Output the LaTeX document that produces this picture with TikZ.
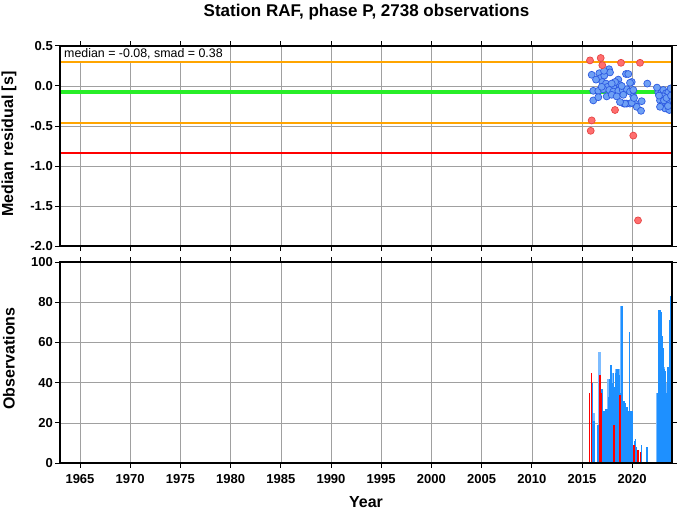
\documentclass[tikz,border=0pt]{standalone}
\usepackage{fontspec}
\setmainfont{Liberation Sans}
\definecolor{gridgray}{RGB}{160,160,160}
\definecolor{medgreen}{RGB}{40,238,40}
\definecolor{smadorange}{RGB}{255,165,0}
\definecolor{dotblue}{RGB}{110,160,245}
\definecolor{dotblueline}{RGB}{45,90,225}
\definecolor{dotred}{RGB}{255,110,110}
\definecolor{dotredline}{RGB}{230,70,70}
\definecolor{barblue}{RGB}{30,144,255}
\definecolor{barlight}{RGB}{125,188,255}
\tikzset{
  gridline/.style={draw=gridgray,line width=0.55pt},
  frame/.style={draw=black,line width=1.4pt},
  tickmark/.style={draw=black,line width=1pt},
  ticklab/.style={font=\fontsize{13}{13}\selectfont\bfseries,inner sep=0pt},
  axlab/.style={font=\fontsize{16}{16}\selectfont\bfseries,inner sep=0pt},
  bluedot/.style={fill=dotblue,draw=dotblueline,line width=0.7pt},
  reddot/.style={fill=dotred,draw=dotredline,line width=0.7pt}
}
\begin{document}
\begin{tikzpicture}[x=1pt,y=-1pt]
\useasboundingbox (0,0) rectangle (678,511);
\node[axlab,font=\fontsize{17}{17}\selectfont\bfseries,anchor=base] (title) at (366.5,16.7) {Station RAF, phase P, 2738 observations};
% top panel: grid
\foreach \yr in {1965,1970,...,2020}
  \draw[gridline] ({80+(\yr-1965)*10.04},46) -- ++(0,200);
\foreach \yy in {86,126,166,206}
  \draw[gridline] (60,\yy) -- (672,\yy);
% median and smad lines
\draw[smadorange,line width=2pt] (60,62) -- (672,62);
\draw[smadorange,line width=2pt] (60,122.8) -- (672,122.8);
\draw[medgreen,line width=4pt] (60,92.4) -- (672,92.4);
\draw[red,line width=2pt] (60,153.2) -- (672,153.2);
\node[anchor=west,fill=white,inner sep=1.5pt,font=\fontsize{12.4}{12.4}\selectfont] (stats) at (62.5,54) {median = -0.08, smad = 0.38};
% residuals
\begin{scope}
\clip (60,46) rectangle (672,246);
\begin{scope}[shift={(0,86)},y=80pt]
\foreach \x/\r in {591.7/0.14,599.3/0.16,600.7/0.10,609/0.21,610/0.17,604.3/0.13,602.3/0.05,606/0.03,
  607.7/-0.01,618.3/0.08,616.7/0.03,613.3/-0.01,620/0.01,626/0.15,628.3/0.15,631.7/0.05,593.3/-0.06,
  598.3/-0.06,603.3/-0.04,609.3/-0.05,613.3/-0.07,618.3/-0.06,622.7/-0.05,626.7/-0.04,630/-0.07,
  593.3/-0.18,598.3/-0.14,606.7/-0.13,611.7/-0.11,616.7/-0.13,623.3/-0.11,624/-0.22,626.7/-0.22,
  630/-0.22,633.3/-0.13,635/-0.22,621.7/0.00,615/0.05,611.7/0.03,601.7/-0.01,630/0.04,633.3/-0.05,
  647.3/0.03,641.7/-0.19,636.7/-0.26,641/-0.31,631.7/-0.21,625/-0.22,620/-0.20,634/-0.15,604/0.19,
  596/0.08,658.3/-0.08,661.7/-0.07,663.3/-0.05,666/-0.09,668.3/-0.08,670/-0.20,660/-0.18,661.7/-0.24,
  665/-0.28,667.3/-0.22,669.3/-0.30,663.3/-0.13,660/-0.26,670.7/-0.03,657/-0.02,659/-0.12,664/-0.18,
  666.5/-0.15,671/-0.12,668/-0.25}
  \draw[bluedot] (\x,\r) circle (3.5pt);
\foreach \x/\r in {590/0.32,600.7/0.35,602.3/0.26,621/0.29,640/0.29,615/-0.30,591.7/-0.43,
  590.7/-0.56,633.3/-0.62,638/-1.68}
  \draw[reddot] (\x,\r) circle (3.5pt);
\end{scope}
\end{scope}
% top panel: frame and ticks
\draw[frame] (60,46) rectangle (672,246);
\foreach \yr in {1965,1970,...,2020} {
  \draw[tickmark] ({80+(\yr-1965)*10.04},46) -- ++(0,-5);
  \draw[tickmark] ({80+(\yr-1965)*10.04},246) -- ++(0,5);
}
\foreach \v/\lab [count=\i] in {0.5/0.5,0/0.0,-0.5/-0.5,-1/-1.0,-1.5/-1.5,-2/-2.0} {
  \draw[tickmark] (60,{86-\v*80}) -- ++(-5,0);
  \draw[tickmark] (672,{86-\v*80}) -- ++(5,0);
  \node[ticklab,anchor=east] (resl\i) at (53,{86-\v*80}) {\lab};
}
\node[axlab,rotate=90] (reslab) at (9,144) {Median residual [s]};
% bottom panel: grid
\foreach \yr in {1965,1970,...,2020}
  \draw[gridline] ({80+(\yr-1965)*10.04},262) -- ++(0,201);
\foreach \n in {20,40,60,80}
  \draw[gridline] (60,{463-\n*2.01}) -- (672,{463-\n*2.01});
% observations per month
\begin{scope}
\clip (60,262) rectangle (672,463);
\begin{scope}[shift={(0,463)},y=2.01pt]
\foreach \x/\n in {594/25,599.7/55,608.5/42,612.7/45,616/47,619/47,621.5/78,631.5/26,657.5/35,
  664/48,667/40}
  \fill[barlight] (\x-1.3,0) rectangle (\x+1.3,\n);
\foreach \x/\n in {592.6/40,593.6/21,594.5/21,597.6/19,598.6/19,601.9/37,602.7/37,603.5/26,604.5/26,
  605.5/27,606.5/27,607.5/27,608.5/33,609.3/42,610.5/49,611.5/49,612.5/40,613.5/45,614.8/38,
  615.5/45,616.5/47,617.5/47,618.5/47,619.5/44,620.7/35,621.8/78,622.5/35,623.5/31,624.5/31,
  625.5/30,626.5/28,627.5/28,628.5/26,629.3/65,630.5/26,631.5/26,632.5/26,634.9/11,635.5/12,
  636.3/8,641.5/9,646.9/8,657.8/35,658.8/76,659.8/76,661.3/75,662.2/63,663/57,664.2/47,665.5/46,
  666.7/35,668/48,669.3/71,670.5/83,671.5/93}
  \fill[barblue] (\x-0.7,0) rectangle (\x+0.7,\n);
\foreach \x/\n in {589.6/35,591.4/45,599.9/44,601.2/35,614.2/19,620/34,633.8/9,638/6.5,640.5/5.6}
  \fill[red] (\x-0.85,0) rectangle (\x+0.85,\n);
\end{scope}
\end{scope}
% bottom panel: frame and ticks
\draw[frame] (60,262) rectangle (672,463);
\foreach \yr [count=\i] in {1965,1970,...,2020} {
  \draw[tickmark] ({80+(\yr-1965)*10.04},262) -- ++(0,-5);
  \draw[tickmark] ({80+(\yr-1965)*10.04},463) -- ++(0,5);
  \node[ticklab,anchor=north] (yrl\i) at ({80+(\yr-1965)*10.04},474.5) {\yr};
}
\foreach \n [count=\i] in {0,20,...,100} {
  \draw[tickmark] (60,{463-\n*2.01}) -- ++(-5,0);
  \draw[tickmark] (672,{463-\n*2.01}) -- ++(5,0);
  \node[ticklab,anchor=east] (obsl\i) at (53,{463-\n*2.01}) {\n};
}
\node[axlab,rotate=90] (obslab) at (9,358.5) {Observations};
\node[axlab] (yearlab) at (366,502.5) {Year};
\end{tikzpicture}
\end{document}
